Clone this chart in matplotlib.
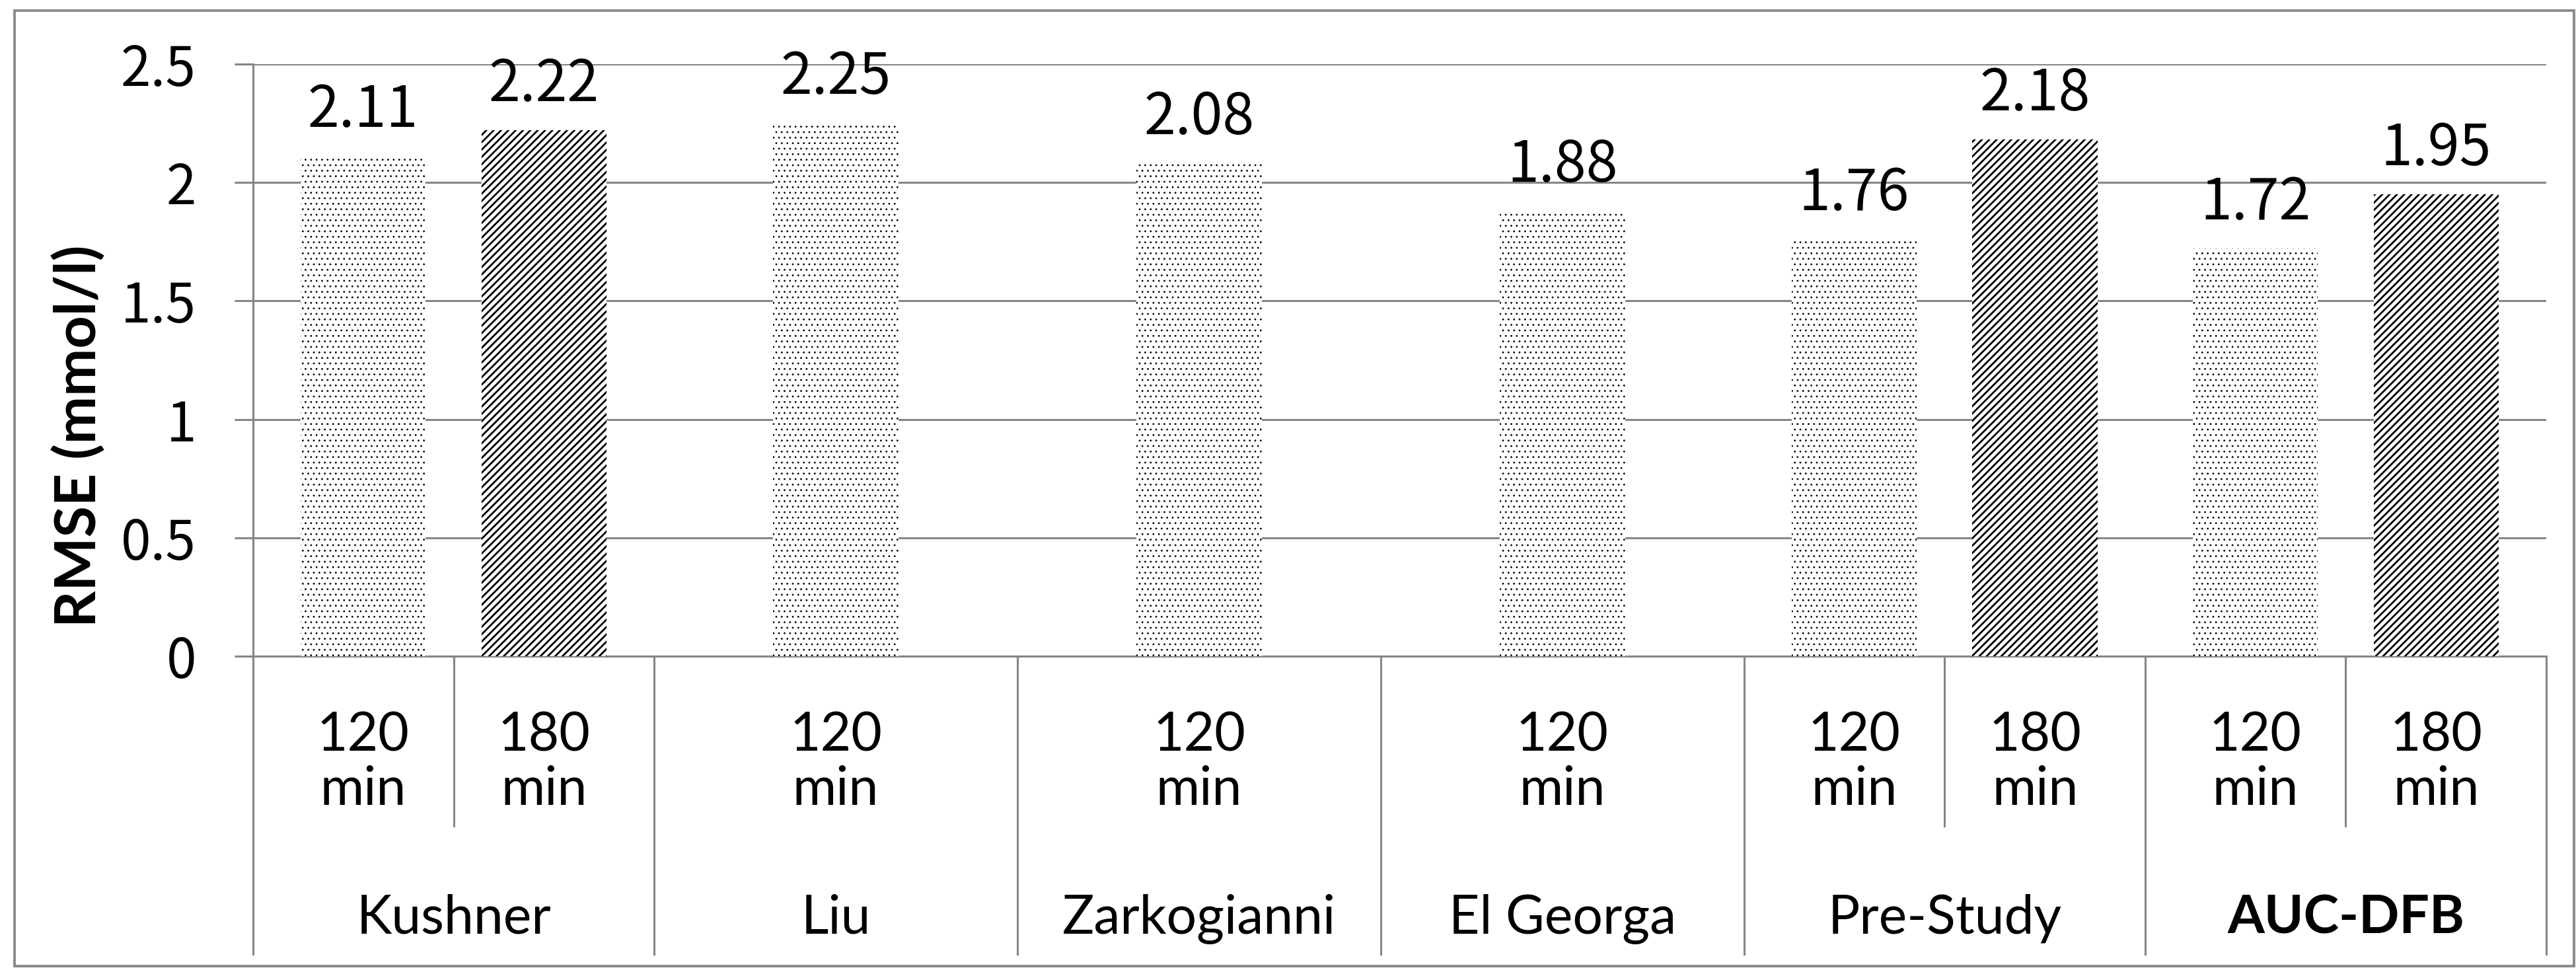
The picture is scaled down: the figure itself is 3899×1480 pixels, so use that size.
import matplotlib
matplotlib.use("Agg")
import matplotlib.pyplot as plt
from matplotlib.patches import Rectangle
from matplotlib.lines import Line2D

# ---------------- data ----------------
studies = ["Kushner", "Liu", "Zarkogianni", "El Georga", "Pre-Study", "AUC-DFB"]
rmse_120 = [2.11, 2.25, 2.08, 1.88, 1.76, 1.72]
rmse_180 = [2.22, None, None, None, 2.18, 1.95]
horizon_120 = ["120", "min"]
horizon_180 = ["180", "min"]
y_ticks = [0, 0.5, 1, 1.5, 2, 2.5]
y_tick_labels = ["0", "0.5", "1", "1.5", "2", "2.5"]
y_title = "RMSE (mmol/l)"
bold_study = "AUC-DFB"

# ---------------- layout / style ----------------
W_PAIR, W_SINGLE = 1.104, 1.0
PAIR_OFF = 0.249
BAR_W = 0.345
GRID = "#868686"
LAT = ["Lato", "DejaVu Sans"]
NUM = ["Noto Sans CJK JP", "DejaVu Sans"]
DOT_LW, STRIPE_LW = 0.8, 2.0

fig = plt.figure(figsize=(38.99, 14.80), dpi=100)
ax = fig.add_axes([383 / 3899, 1 - 993.4 / 1480, (3854 - 383) / 3899, (993.4 - 96.7) / 1480])

# group geometry
starts, widths = [], []
pos = 0.0
for v in rmse_180:
    w = W_PAIR if v is not None else W_SINGLE
    starts.append(pos)
    widths.append(w)
    pos += w
total = pos
centers = [s + w / 2 for s, w in zip(starts, widths)]
x120 = [c - PAIR_OFF if v is not None else c for c, v in zip(centers, rmse_180)]
x180 = [c + PAIR_OFF for c, v in zip(centers, rmse_180) if v is not None]
v180 = [v for v in rmse_180 if v is not None]

with plt.rc_context({"hatch.linewidth": DOT_LW}):
    bars1 = ax.bar(x120, rmse_120, width=BAR_W, color="white", edgecolor="black",
                   linewidth=0, hatch="..", zorder=3)
with plt.rc_context({"hatch.linewidth": STRIPE_LW}):
    bars2 = ax.bar(x180, v180, width=BAR_W, color="white", edgecolor="black",
                   linewidth=0, hatch="///", zorder=3)
for p in bars1:
    if hasattr(p, "set_hatch_linewidth"):
        p.set_hatch_linewidth(DOT_LW)
for p in bars2:
    if hasattr(p, "set_hatch_linewidth"):
        p.set_hatch_linewidth(STRIPE_LW)

# value labels
for x, v in list(zip(x120, rmse_120)) + list(zip(x180, v180)):
    ax.annotate(f"{v:.2f}", (x, v), xytext=(0, 32), textcoords="offset points",
                ha="center", va="baseline", fontsize=62, family=NUM, color="black")

ax.set_xlim(0, total)
ax.set_ylim(0, 2.5)
ax.set_yticks(y_ticks)
ax.set_yticklabels(y_tick_labels, family=NUM, fontsize=59)
ax.tick_params(axis="y", direction="out", length=20, width=2.2, color=GRID, pad=42)
ax.set_xticks([])
ax.yaxis.grid(True, color=GRID, linewidth=2.2, zorder=0)
ax.set_axisbelow(True)
for s in ["top", "right"]:
    ax.spines[s].set_visible(False)
for s in ["left", "bottom"]:
    ax.spines[s].set_color(GRID)
    ax.spines[s].set_linewidth(2.2)

# category axis (two levels)
tr = ax.get_xaxis_transform()
Y_L1A, Y_L1B, Y_L2 = -0.1595, -0.251, -0.4675
Y_INNER, Y_OUTER = -0.2867, -0.502
bounds = starts + [total]
for b in bounds:
    ax.add_line(Line2D([b, b], [0, Y_OUTER], transform=tr, color=GRID, lw=2.2, clip_on=False))
for c, v in zip(centers, rmse_180):
    if v is not None:
        ax.add_line(Line2D([c, c], [0, Y_INNER], transform=tr, color=GRID, lw=2.2, clip_on=False))
i180 = 0
for gi, (c, v) in enumerate(zip(centers, rmse_180)):
    leaves = [(x120[gi], horizon_120)]
    if v is not None:
        leaves.append((x180[i180], horizon_180))
        i180 += 1
    for x, lab in leaves:
        ax.text(x, Y_L1A, lab[0], transform=tr, ha="center", va="baseline",
                fontsize=58, family=LAT, clip_on=False)
        ax.text(x, Y_L1B, lab[1], transform=tr, ha="center", va="baseline",
                fontsize=58, family=LAT, clip_on=False)
    ax.text(c, Y_L2, studies[gi], transform=tr, ha="center", va="baseline",
            fontsize=58, family=LAT, clip_on=False,
            fontweight="bold" if studies[gi] == bold_study else "normal")

fig.text(120 / 3899, 1 - 660 / 1480, y_title, rotation=90, ha="center", va="center",
         fontsize=62, fontweight="bold", family=LAT)

fig.add_artist(Rectangle((22 / 3899, 1 - 1462 / 1480), (3896 - 22) / 3899, (1462 - 16) / 1480,
                         transform=fig.transFigure, fill=False, edgecolor="#8a8a8a", lw=2.8))

fig.savefig("out.png", dpi=100, facecolor="white")
